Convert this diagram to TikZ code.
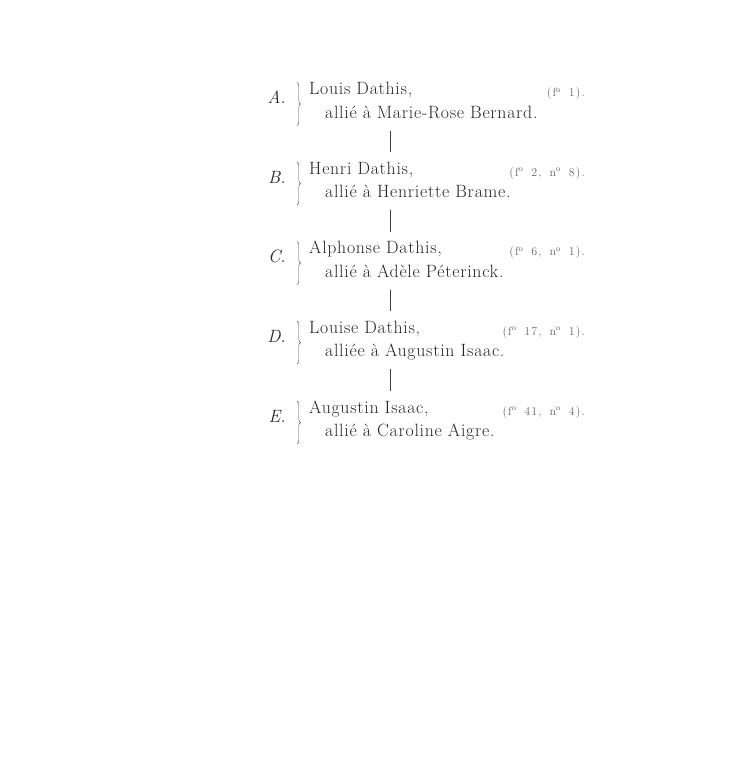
\documentclass[tikz,border=0pt]{standalone}
\usepackage{fontspec}
\usepackage{tikz}
\usetikzlibrary{positioning,decorations.pathreplacing}
\newfontfamily\platefont{Latin Modern Roman}[LetterSpace=4]
\newfontfamily\foliofont{Latin Modern Roman}[LetterSpace=9,WordSpace=1.6]
\tikzset{
    lineage/.style={x=1pt,y=-1pt,every node/.style={inner sep=0pt,text=black!85}},
    who/.style={anchor=base west,font=\platefont\fontsize{17.8}{20}\selectfont},
    gen/.style={anchor=base east,font=\fontsize{17.8}{20}\selectfont\itshape},
    folio/.style={anchor=base east,text=black!60,font=\foliofont\fontsize{12}{14}\selectfont},
    bracket/.style={decorate,decoration={brace,amplitude=3.5pt},draw=black!70,thin},
    descent/.style={draw=black!75,semithick},
    }

\begin{document}
\begin{tikzpicture}[lineage]
            \useasboundingbox (0,0) rectangle (735,768);

            \node[who] (nA) at (309,94.5) {Louis Dathis,};
            \node[who] (sA) [below right=23.5pt and 16pt of nA.base west, anchor=base west] {allié à Marie-Rose Bernard.};
            \node[gen] (lA) [left=23pt of nA.base west, anchor=base east, yshift=-9pt] {A.};
            \node[folio] (rA) at (585,96.5) {(f\textsuperscript{o} 1).};

            \node[who] (nB) at (309,174) {Henri Dathis,};
            \node[who] (sB) [below right=23.5pt and 16pt of nB.base west, anchor=base west] {allié à Henriette Brame.};
            \node[gen] (lB) [left=23pt of nB.base west, anchor=base east, yshift=-9pt] {B.};
            \node[folio] (rB) at (585,176) {(f\textsuperscript{o} 2, n\textsuperscript{o} 8).};

            \node[who] (nC) at (309,253.5) {Alphonse Dathis,};
            \node[who] (sC) [below right=23.5pt and 16pt of nC.base west, anchor=base west] {allié à Adèle Péterinck.};
            \node[gen] (lC) [left=23pt of nC.base west, anchor=base east, yshift=-9pt] {C.};
            \node[folio] (rC) at (585,255.5) {(f\textsuperscript{o} 6, n\textsuperscript{o} 1).};

            \node[who] (nD) at (309,333) {Louise Dathis,};
            \node[who] (sD) [below right=23.5pt and 16pt of nD.base west, anchor=base west] {alliée à Augustin Isaac.};
            \node[gen] (lD) [left=23pt of nD.base west, anchor=base east, yshift=-9pt] {D.};
            \node[folio] (rD) at (585,335) {(f\textsuperscript{o} 17, n\textsuperscript{o} 1).};

            \node[who] (nE) at (309,413) {Augustin Isaac,};
            \node[who] (sE) [below right=23.5pt and 16pt of nE.base west, anchor=base west] {allié à Caroline Aigre.};
            \node[gen] (lE) [left=23pt of nE.base west, anchor=base east, yshift=-9pt] {E.};
            \node[folio] (rE) at (585,415) {(f\textsuperscript{o} 41, n\textsuperscript{o} 4).};

            % braces
            \draw[bracket] ([xshift=-12pt,yshift=12pt]nA.base west) -- ([xshift=-12pt,yshift=-31pt]nA.base west);
            \draw[bracket] ([xshift=-12pt,yshift=12pt]nB.base west) -- ([xshift=-12pt,yshift=-31pt]nB.base west);
            \draw[bracket] ([xshift=-12pt,yshift=12pt]nC.base west) -- ([xshift=-12pt,yshift=-31pt]nC.base west);
            \draw[bracket] ([xshift=-12pt,yshift=12pt]nD.base west) -- ([xshift=-12pt,yshift=-31pt]nD.base west);
            \draw[bracket] ([xshift=-12pt,yshift=12pt]nE.base west) -- ([xshift=-12pt,yshift=-31pt]nE.base west);

            % descent
            \draw[descent] ([xshift=81pt,yshift=-36pt]nA.base west) -- ([xshift=81pt,yshift=22pt]nB.base west);
            \draw[descent] ([xshift=81pt,yshift=-36pt]nB.base west) -- ([xshift=81pt,yshift=22pt]nC.base west);
            \draw[descent] ([xshift=81pt,yshift=-36pt]nC.base west) -- ([xshift=81pt,yshift=22pt]nD.base west);
            \draw[descent] ([xshift=81pt,yshift=-36pt]nD.base west) -- ([xshift=81pt,yshift=22pt]nE.base west);
        \end{tikzpicture}
\end{document}
